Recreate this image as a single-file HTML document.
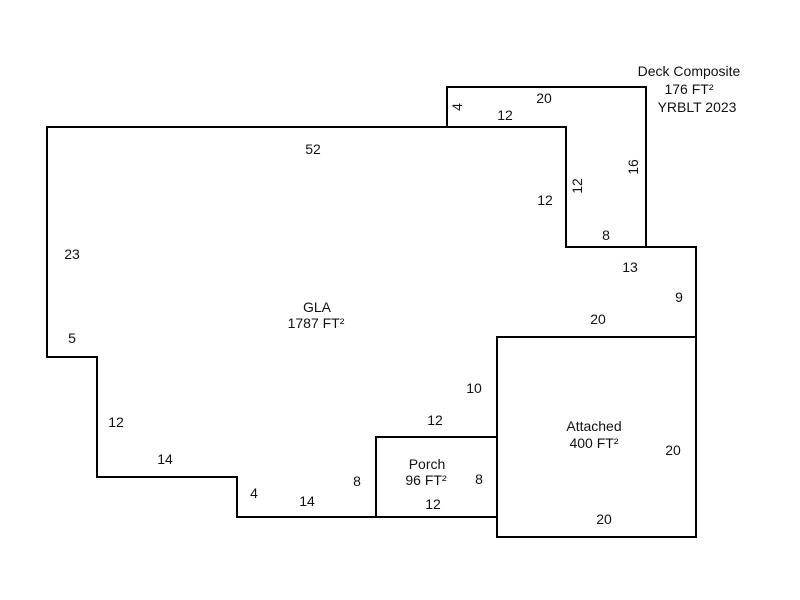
<!DOCTYPE html>
<html><head><style>html,body{margin:0;padding:0;background:#fff}svg{display:block}text{font-family:"Liberation Sans",Arial,sans-serif;font-size:14px;fill:#111}</style></head>
<body>
<svg width="800" height="600" viewBox="0 0 800 600" xmlns="http://www.w3.org/2000/svg">
<rect width="800" height="600" fill="#fff"/>
<g fill="none" stroke="#000" stroke-width="2">
<polygon points="47,127 566,127 566,247 696,247 696,337 497,337 497,437 376,437 376,517 237,517 237,477 97,477 97,357 47,357"/>
<polyline points="447,127 447,87 646,87 646,247"/>
<rect x="376" y="437" width="121" height="80"/>
<rect x="497" y="337" width="199" height="200"/>
</g>
<g text-anchor="middle">
<text x="313" y="154">52</text>
<text x="72" y="259">23</text>
<text x="72" y="343">5</text>
<text x="116" y="427">12</text>
<text x="165" y="464">14</text>
<text x="254" y="498">4</text>
<text x="307" y="506">14</text>
<text x="357" y="486">8</text>
<text x="435" y="425">12</text>
<text x="474" y="393">10</text>
<text x="598" y="324">20</text>
<text x="679" y="302">9</text>
<text x="630" y="272">13</text>
<text x="606" y="240">8</text>
<text x="545" y="205">12</text>
<text x="505" y="120">12</text>
<text x="544" y="103">20</text>
<text transform="translate(582,186) rotate(-90)">12</text>
<text transform="translate(638,167) rotate(-90)">16</text>
<text transform="translate(462,107) rotate(-90)">4</text>
<text x="317" y="312">GLA</text>
<text x="316" y="328">1787 FT²</text>
<text x="427" y="469">Porch</text>
<text x="426" y="485">96 FT²</text>
<text x="479" y="484">8</text>
<text x="433" y="509">12</text>
<text x="594" y="431">Attached</text>
<text x="594" y="448">400 FT²</text>
<text x="673" y="455">20</text>
<text x="604" y="524">20</text>
<text x="689" y="76">Deck Composite</text>
<text x="689" y="94">176 FT²</text>
<text x="697" y="112">YRBLT 2023</text>
</g>
</svg>
</body></html>
